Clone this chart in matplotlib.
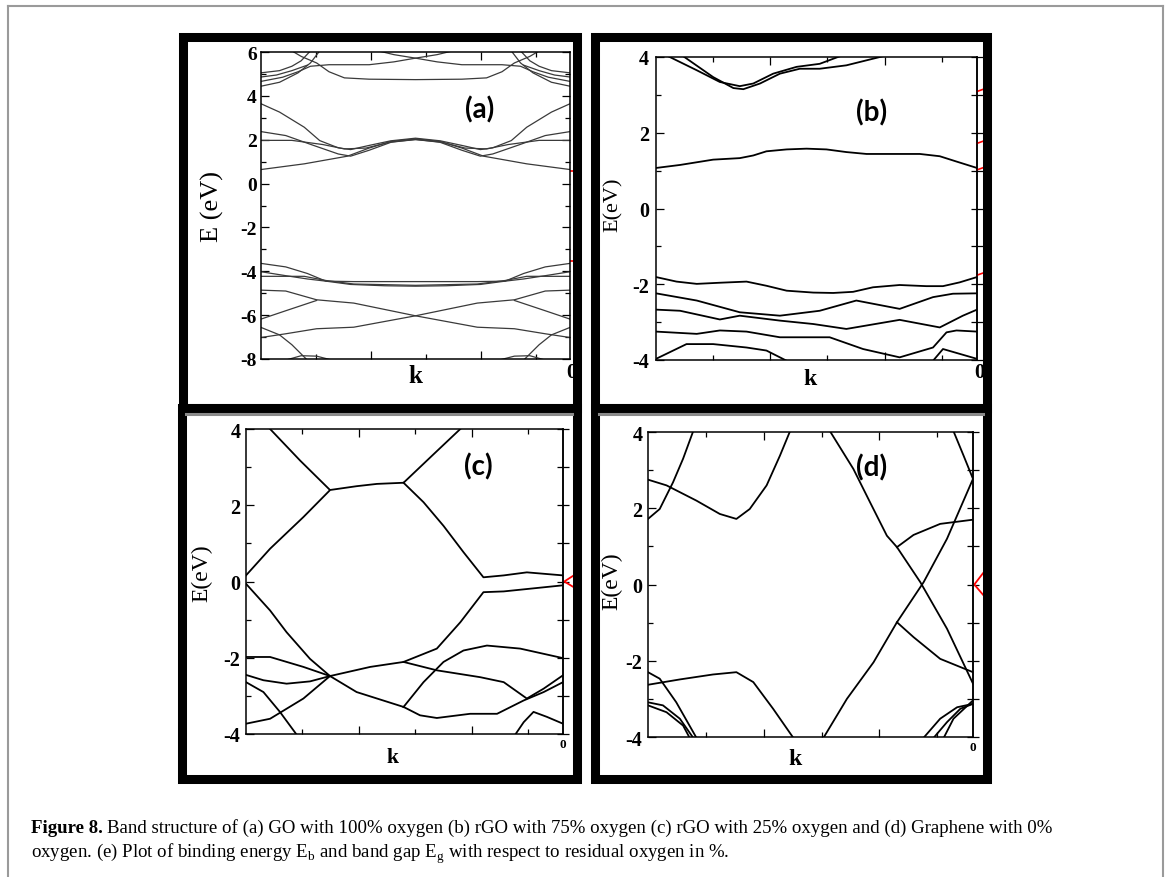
import matplotlib
matplotlib.use('Agg')
import matplotlib.pyplot as plt
from matplotlib.patches import Rectangle
from matplotlib.lines import Line2D
from matplotlib.ticker import FixedLocator

plt.rcParams['font.family'] = ['Liberation Serif', 'DejaVu Serif']
plt.rcParams['mathtext.fontset'] = 'custom'
plt.rcParams['mathtext.rm'] = 'Liberation Serif'
plt.rcParams['axes.unicode_minus'] = False

# ---------------- data: bands as (k, E), k runs 0..1 along the path ----------------
# (a) GO 100% oxygen
A_C1 = ([0, .14, .28, .35, .42, .5, .58, .65, .72, .86, 1],
        [0.64, 0.90, 1.25, 1.62, 1.92, 2.04, 1.92, 1.62, 1.25, 0.90, 0.64])
A_C2 = ([0, .06, .14, .19, .25, .29, .35, .42, .5, .58, .65, .71, .75, .81, .86, .94, 1],
        [3.64, 3.26, 2.57, 1.96, 1.63, 1.55, 1.74, 1.95, 2.07, 1.95, 1.74, 1.55, 1.63, 1.96, 2.57, 3.26, 3.64])
A_C3 = ([0, .08, .17, .25, .29, .35, .42, .5, .58, .65, .71, .75, .83, .92, 1],
        [2.37, 2.19, 1.74, 1.35, 1.25, 1.52, 1.88, 2.02, 1.88, 1.52, 1.25, 1.35, 1.74, 2.19, 2.37])
A_C4 = ([0, .1, .2, .27, .34, .42, .5, .58, .66, .73, .8, .9, 1],
        [1.97, 1.97, 1.78, 1.58, 1.62, 1.90, 2.00, 1.90, 1.62, 1.58, 1.78, 1.97, 1.97])
A_U1 = ([0, .06, .12, .16, .19], [4.44, 4.62, 5.05, 5.50, 6.05])
A_U1R = ([1, .94, .88, .84, .81], [4.44, 4.62, 5.05, 5.50, 6.05])
A_U2 = ([0, .07, .12, .16, .22, .35, .43, .5, .57, .62],
        [4.66, 4.85, 5.10, 5.35, 5.42, 5.42, 5.55, 5.72, 5.88, 6.05])
A_U2R = ([1, .93, .88, .84, .78, .65, .57, .5, .43, .38],
         [4.66, 4.85, 5.10, 5.35, 5.42, 5.42, 5.55, 5.72, 5.88, 6.05])
A_U3 = ([.1, .13, .18, .22, .27, .35, .5, .65, .73, .78, .82, .87, .9],
        [6.05, 5.80, 5.50, 5.10, 4.82, 4.76, 4.74, 4.76, 4.82, 5.10, 5.50, 5.80, 6.05])
A_U4 = ([0, .06, .1, .13, .16], [5.05, 5.15, 5.35, 5.60, 6.05])
A_U4R = ([1, .94, .9, .87, .84], [5.05, 5.15, 5.35, 5.60, 6.05])
A_U5 = ([0, .05, .1, .15], [4.86, 4.95, 5.15, 5.40])
A_U5R = ([1, .95, .9, .85], [4.86, 4.95, 5.15, 5.40])
A_V1 = ([0, .08, .15, .21, .29, .4, .5, .6, .71, .79, .85, .92, 1],
        [-3.64, -3.80, -4.10, -4.45, -4.60, -4.66, -4.68, -4.66, -4.60, -4.45, -4.10, -3.80, -3.64])
A_V2 = ([0, .08, .15, .21, .3, .5, .7, .79, .85, .92, 1],
        [-4.02, -4.20, -4.35, -4.45, -4.47, -4.47, -4.47, -4.45, -4.35, -4.20, -4.02])
A_V3 = ([0, .14, .21, .3, .5, .7, .79, .86, 1],
        [-4.23, -4.23, -4.42, -4.58, -4.64, -4.58, -4.42, -4.23, -4.23])
A_X1 = ([0, .08, .18, .3, .5, .7, .82, .92, 1],
        [-4.86, -4.90, -5.30, -5.45, -6.03, -6.55, -6.62, -6.85, -7.02])
A_X2 = ([1, .92, .82, .7, .5, .3, .18, .08, 0],
        [-4.86, -4.90, -5.30, -5.45, -6.03, -6.55, -6.62, -6.85, -7.02])
A_V5 = ([0, .08, .18], [-6.18, -5.80, -5.33])
A_V5R = ([1, .92, .82], [-6.18, -5.80, -5.33])
A_V6 = ([0, .06, .1, .15], [-6.56, -6.90, -7.35, -8.05])
A_V6R = ([1, .94, .9, .85], [-6.56, -6.90, -7.35, -8.05])
A_V7 = ([.08, .13, .18, .23], [-8.05, -7.85, -7.87, -8.05])
A_V7R = ([.92, .87, .82, .77], [-8.05, -7.85, -7.87, -8.05])
A_RED = [0.59, -3.52]

# (b) rGO 75% oxygen
B_C1 = ([0, .075, .178, .261, .303, .344, .407, .469, .531, .593, .656, .749, .822, .884, .936, 1],
        [1.07, 1.15, 1.29, 1.33, 1.40, 1.51, 1.56, 1.58, 1.56, 1.49, 1.44, 1.44, 1.44, 1.38, 1.24, 1.07])
B_T1 = ([.038, .127, .199, .261, .303, .365, .438, .51, .573],
        [4.02, 3.65, 3.34, 3.23, 3.30, 3.56, 3.74, 3.82, 4.02])
B_T2 = ([.085, .178, .241, .272, .324, .386, .448, .51, .593, .707],
        [4.02, 3.47, 3.18, 3.15, 3.30, 3.56, 3.69, 3.69, 3.78, 4.02])
B_V1 = ([0, .064, .127, .199, .282, .344, .407, .49, .552, .614, .676, .759, .842, .894, .946, 1],
        [-1.81, -1.93, -1.99, -1.96, -1.93, -2.04, -2.17, -2.22, -2.23, -2.20, -2.08, -2.02, -2.05, -2.05, -1.95, -1.81])
B_V2 = ([0, .127, .261, .386, .51, .624, .759, .863, .925, 1],
        [-2.24, -2.43, -2.74, -2.83, -2.70, -2.43, -2.65, -2.34, -2.25, -2.24])
B_V3 = ([0, .075, .199, .261, .386, .49, .593, .759, .884, .956, 1],
        [-2.67, -2.70, -2.93, -2.83, -2.96, -3.05, -3.18, -2.94, -3.14, -2.83, -2.67])
B_V4 = ([0, .127, .199, .282, .386, .541, .645, .759, .863, .905, .936, 1],
        [-3.25, -3.31, -3.22, -3.25, -3.40, -3.40, -3.71, -3.93, -3.67, -3.27, -3.22, -3.25])
B_V5 = ([0, .095, .178, .282, .344, .407], [-3.97, -3.58, -3.58, -3.67, -3.75, -4.02])
B_V6 = ([.863, .894, 1], [-4.02, -3.71, -3.97])
B_RED = [3.12, 1.75, 1.05, -1.73]

# (c) rGO 25% oxygen
C_P1 = ([.076, .171, .265, .349, .413, .497, .592, .676], [4.0, 3.17, 2.40, 2.50, 2.56, 2.59, 3.34, 4.0])
C_P2 = ([0, .076, .181, .263], [0.16, 0.86, 1.69, 2.38])
C_P3 = ([.497, .56, .623, .686, .749, .813, .886, 1], [2.59, 2.08, 1.46, 0.77, 0.11, 0.16, 0.24, 0.16])
C_P4 = ([0, .076, .128, .202, .265, .349, .497], [-0.06, -0.76, -1.33, -2.03, -2.48, -2.90, -3.29])
C_P5 = ([.265, .392, .497, .602, .676, .749, .813, 1], [-2.48, -2.24, -2.11, -1.76, -1.07, -0.28, -0.26, -0.10])
C_P6 = ([0, .076, .181, .265], [-1.98, -1.98, -2.24, -2.48])
C_P7 = ([0, .055, .128, .202, .265], [-2.45, -2.59, -2.68, -2.62, -2.48])
C_P8 = ([0, .076, .181, .265], [-3.73, -3.60, -3.07, -2.48])
C_P9 = ([0, .055, .107, .16], [-2.64, -2.90, -3.42, -4.02])
C_P10 = ([.497, .602, .739, .813, .886, .939, 1], [-2.11, -2.33, -2.51, -2.64, -3.07, -2.81, -2.46])
C_P11 = ([.497, .549, .602, .707, .792, .876, .939, 1], [-3.29, -3.51, -3.58, -3.47, -3.47, -3.12, -2.90, -2.64])
C_P12 = ([.497, .56, .623, .686, .76, .865, 1], [-3.29, -2.64, -2.11, -1.81, -1.68, -1.76, -2.01])
C_P13 = ([.849, .876, .907, .949, 1], [-4.02, -3.69, -3.42, -3.55, -3.73])
C_RED = ([1.034, 1.004, 1.034], [0.16, 0.0, -0.15])

# (d) graphene 0% oxygen
D_1 = ([0, .036, .077, .108, .139], [1.72, 1.98, 2.68, 3.30, 4.02])
D_2 = ([0, .057, .149, .221, .272, .313, .365, .406, .437], [2.75, 2.60, 2.20, 1.85, 1.72, 1.98, 2.60, 3.38, 4.02])
D_3 = ([.56, .632, .683, .735, .766, .838, .92, 1], [4.02, 3.03, 2.16, 1.28, 0.98, 0.06, -1.16, -2.60])
D_4 = ([.766, .817, .899, 1], [0.98, 1.30, 1.59, 1.70])
D_5 = ([.54, .612, .694, .766, .848, .92, 1], [-4.02, -3.0, -2.04, -0.99, 0.06, 1.20, 2.77])
D_6 = ([.94, .971, 1], [4.02, 3.38, 2.77])
D_7 = ([.766, .817, .899, 1], [-0.99, -1.38, -1.95, -2.30])
D_8 = ([0, .098, .2, .272, .324, .385, .447], [-2.63, -2.49, -2.36, -2.30, -2.56, -3.26, -4.02])
D_9 = ([0, .036, .087, .149], [-2.30, -2.47, -3.09, -4.02])
D_10 = ([0, .046, .098, .139], [-3.09, -3.17, -3.52, -4.02])
D_11 = ([0, .057, .108, .128], [-3.17, -3.35, -3.70, -4.02])
D_12 = ([.848, .899, .951, 1], [-4.02, -3.52, -3.22, -3.13])
D_13 = ([.879, .92, .961, 1], [-4.02, -3.61, -3.26, -3.13])
D_14 = ([.91, .94, 1], [-4.02, -3.52, -3.04])
D_RED = ([1.033, 1.004, 1.033], [0.32, 0.0, -0.29])

K_MAJOR = [0.356, 0.712]
K_MINOR = [0.178, 0.534, 0.89]

CAPTION_1 = 'Band structure of (a) GO with 100% oxygen (b) rGO with 75% oxygen (c) rGO with 25% oxygen and (d) Graphene with 0%'
CAPTION_2 = r'oxygen. (e) Plot of binding energy E$_{\rm b}$ and band gap E$_{\rm g}$ with respect to residual oxygen in %.'

# ---------------- figure ----------------
W, H = 1170, 878
fig = plt.figure(figsize=(W / 100, H / 100), dpi=100)


def fx(px):
    return px / W


def fy(py):
    return 1 - py / H


def panel(l, t, r, b, bands, ylim, color, lw, label_pad, label_size):
    ax = fig.add_axes([fx(l), fy(b), fx(r - l), (b - t) / H])
    for k, e in bands:
        ax.plot(k, e, color=color, lw=lw, solid_joinstyle='round')
    ax.set_xlim(0, 1)
    ax.set_ylim(*ylim)
    ax.set_yticks(range(ylim[0], ylim[1] + 1, 2))
    ax.yaxis.set_minor_locator(FixedLocator(range(ylim[0] + 1, ylim[1], 2)))
    ax.set_xticks(K_MAJOR)
    ax.set_xticks(K_MINOR, minor=True)
    ax.tick_params(which='both', direction='in', top=True, right=True,
                   labelbottom=False, width=0.9, colors='black')
    ax.tick_params(which='major', length=6, pad=label_pad)
    ax.tick_params(which='minor', length=3.5)
    for lab in ax.get_yticklabels():
        lab.set_fontweight('bold')
        lab.set_fontsize(label_size)
    for s in ax.spines.values():
        s.set_linewidth(1.1)
    return ax


def right_inout(ax, ylim):
    ax.tick_params(which='both', right=False)
    sec = ax.secondary_yaxis('right')
    sec.set_yticks(range(ylim[0], ylim[1] + 1, 2))
    sec.yaxis.set_minor_locator(FixedLocator(range(ylim[0] + 1, ylim[1], 2)))
    sec.tick_params(which='both', direction='inout', labelright=False, length=9, width=0.9)
    sec.spines['right'].set_linewidth(1.1)


bands_a = [A_C1, A_C2, A_C3, A_C4, A_U1, A_U1R, A_U2, A_U2R, A_U3, A_U4, A_U4R, A_U5, A_U5R,
           A_V1, A_V2, A_V3, A_X1, A_X2, A_V5, A_V5R, A_V6, A_V6R, A_V7, A_V7R]
bands_b = [B_C1, B_T1, B_T2, B_V1, B_V2, B_V3, B_V4, B_V5, B_V6]
bands_c = [C_P1, C_P2, C_P3, C_P4, C_P5, C_P6, C_P7, C_P8, C_P9, C_P10, C_P11, C_P12, C_P13]
bands_d = [D_1, D_2, D_3, D_4, D_5, D_6, D_7, D_8, D_9, D_10, D_11, D_12, D_13, D_14]

ax_a = panel(261, 53, 570, 360, bands_a, (-8, 6), '#3a3a3a', 0.9, 3, 14)
ax_b = panel(656, 58, 977, 361, bands_b, (-4, 4), 'black', 1.3, 5, 14.5)
ax_c = panel(246, 430, 563, 735, bands_c, (-4, 4), 'black', 1.3, 4, 14.5)
ax_d = panel(648, 433, 973, 738, bands_d, (-4, 4), 'black', 1.3, 4, 14.5)
right_inout(ax_b, (-4, 4))
right_inout(ax_c, (-4, 4))
right_inout(ax_d, (-4, 4))

# red fragments of the neighbouring DOS plots
for e in A_RED:
    ax_a.plot([1.003, 1.012], [e, e], color='red', lw=1.2, clip_on=False)
for e in B_RED:
    ax_b.plot([1.0, 1.02], [e - 0.03, e + 0.03], color='red', lw=1.2, clip_on=False)
ax_c.plot(*C_RED, color='red', lw=1.3, clip_on=False)
ax_d.plot(*D_RED, color='red', lw=1.3, clip_on=False)

# axis labels
fig.text(fx(212), fy(207), 'E (eV)', rotation=90, ha='center', va='center', fontsize=19)
fig.text(fx(613), fy(205), 'E(eV)', rotation=90, ha='center', va='center', fontsize=16)
fig.text(fx(202), fy(573), 'E(eV)', rotation=90, ha='center', va='center', fontsize=17)
fig.text(fx(612), fy(581), 'E(eV)', rotation=90, ha='center', va='center', fontsize=17)
fig.text(fx(415), fy(377), 'k', ha='center', va='center', fontsize=18, fontweight='bold')
fig.text(fx(810), fy(380), 'k', ha='center', va='center', fontsize=17, fontweight='bold')
fig.text(fx(393), fy(758), 'k', ha='center', va='center', fontsize=15.5, fontweight='bold')
fig.text(fx(795), fy(760), 'k', ha='center', va='center', fontsize=17, fontweight='bold')
fig.text(fx(571), fy(373), '0', ha='center', va='center', fontsize=15, fontweight='bold', zorder=0.5)
fig.text(fx(979), fy(373), '0', ha='center', va='center', fontsize=15, fontweight='bold', zorder=0.5)
fig.text(fx(563), fy(745), '0', ha='center', va='center', fontsize=9.5, fontweight='bold')
fig.text(fx(973), fy(748), '0', ha='center', va='center', fontsize=9.5, fontweight='bold')

# panel letters
for x, y, s in [(480, 110, '(a)'), (872, 113, '(b)'), (478, 467, '(c)'), (872, 468, '(d)')]:
    fig.text(fx(x), fy(y), s, ha='center', va='center', fontsize=20, family='Lato',
             fontweight='bold')

# thick black boxes round the four panels
for l, t, r, b in [(182.5, 37.5, 576.5, 408.5), (594.5, 37.5, 987.5, 408.5),
                   (181.5, 408.5, 576.5, 779.5), (595, 408.5, 987.5, 779.5)]:
    fig.add_artist(Rectangle((fx(l), fy(b)), fx(r - l), (b - t) / H, transform=fig.transFigure,
                             fill=False, ec='black', lw=6.5, joinstyle='miter', zorder=2))
for x0, x1 in [(186, 572), (599, 983)]:
    fig.add_artist(Line2D([fx(x0), fx(x1)], [fy(415), fy(415)], transform=fig.transFigure,
                          color='#8a8a8a', lw=2.2, zorder=2))

# page frame
for xs, ys in [([8, 8], [878, 7]), ([8, 1163], [7, 7]), ([1163, 1163], [7, 878])]:
    fig.add_artist(Line2D([fx(v) for v in xs], [fy(v) for v in ys], transform=fig.transFigure,
                          color='#9a9a9a', lw=1.5))

# caption
t1 = fig.text(fx(31), fy(833), 'Figure 8.', fontweight='bold', fontsize=13.6, va='baseline')
fig.canvas.draw()
x_end = t1.get_window_extent().x1
fig.text((x_end + 4) / W, fy(833), CAPTION_1, fontsize=13.6, va='baseline')
fig.text(fx(31), fy(858), CAPTION_2, fontsize=13.6, va='baseline')

fig.savefig('out.png', dpi=100)
